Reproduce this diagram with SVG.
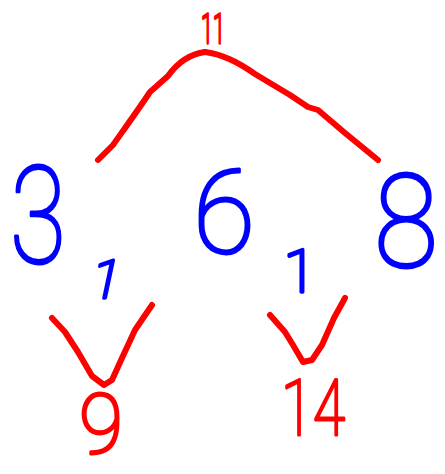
<svg xmlns="http://www.w3.org/2000/svg" width="445" height="474" viewBox="0 0 445 474">
<style>
.t{font-family:Roboto,"Liberation Sans",sans-serif;font-weight:100;text-anchor:middle;stroke-linejoin:round}
.r{fill:#ff0000;stroke:#ff0000}
.b{fill:#0000ff;stroke:#0000ff}
.c{fill:none;stroke:#ff0000;stroke-width:6;stroke-linecap:round;stroke-linejoin:round}
</style>
<rect width="445" height="474" fill="#ffffff"/>
<g id="connectors">
<path class="c" d="M205,52 C190,54 178,62 168,76 L150,92 C138,110 125,128 113,145 L98,160"/>
<path class="c" d="M205,52 C222,54 238,62 255,74 L290,95 L308,107 L318,110 L345,133 L378,160"/>
<path class="c" d="M52,318 L65,332 L78,352 L92,376 L104,385 L112,380 L122,358 L135,330 L152,305"/>
<path class="c" d="M270,315 L285,332 L293,345 L303,362 L312,360 L322,345 L334,318 L345,298"/>
</g>
<g id="n11"><text class="t r" x="213" y="43" font-size="41" stroke-width="3.5" textLength="24" lengthAdjust="spacingAndGlyphs">11</text></g>
<g id="n3"><text class="t b" x="38" y="263" font-size="135" stroke-width="3" textLength="56" lengthAdjust="spacingAndGlyphs">3</text></g>
<g id="n6"><text class="t b" x="224" y="253" font-size="117" stroke-width="3" textLength="62" lengthAdjust="spacingAndGlyphs">6</text></g>
<g id="n8"><text class="t b" x="406" y="267" font-size="130" stroke-width="3" textLength="64" lengthAdjust="spacingAndGlyphs">8</text></g>
<g id="n1a"><text class="t b" x="103" y="298" font-size="53" stroke-width="3.5" transform="skewX(-12) translate(63,0)">1</text></g>
<g id="n1b"><text class="t b" x="300" y="292" font-size="59" stroke-width="3.5">1</text></g>
<g id="n9"><text class="t r" x="101" y="453" font-size="84" stroke-width="3" textLength="44" lengthAdjust="spacingAndGlyphs">9</text></g>
<g id="n14"><text class="t r" x="313" y="435" font-size="78" stroke-width="3" textLength="64" lengthAdjust="spacingAndGlyphs">14</text></g>
</svg>
